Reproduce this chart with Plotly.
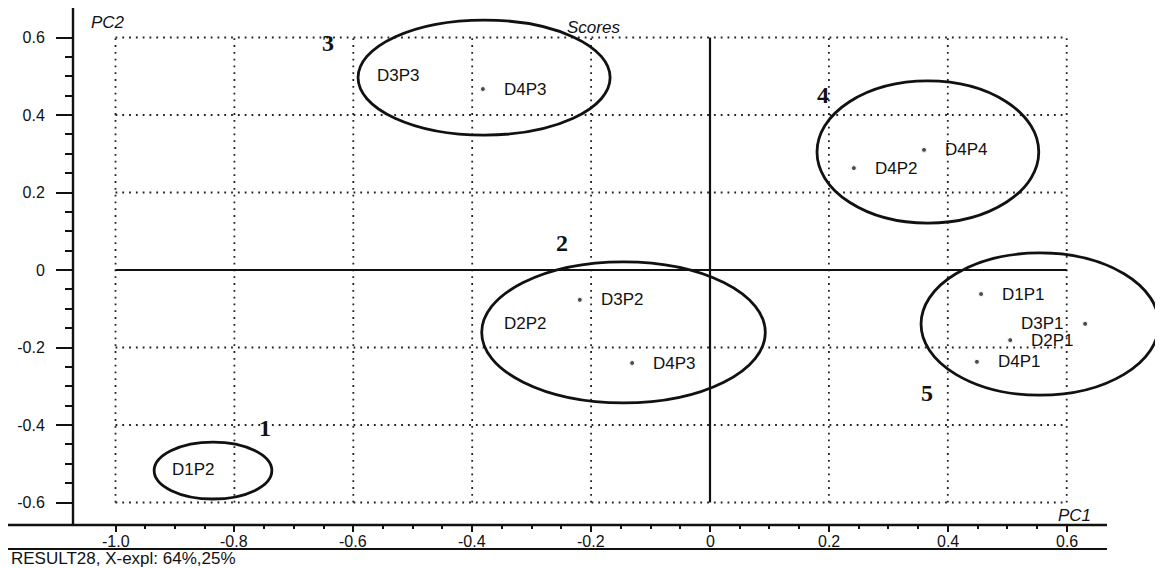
import plotly.graph_objects as go

# ---------------- data ----------------
sample_names = ["D1P1", "D2P1", "D3P1", "D4P1", "D4P2", "D4P4",
                "D3P3", "D4P3", "D2P2", "D3P2", "D4P3", "D1P2"]
pc1_scores = [0.456, 0.505, 0.631, 0.449, 0.242, 0.360,
              -0.595, -0.382, -0.382, -0.219, -0.131, -0.940]
pc2_scores = [-0.062, -0.181, -0.139, -0.237, 0.263, 0.310,
              0.503, 0.467, -0.137, -0.077, -0.240, -0.516]
dot_visible = [True, True, True, True, True, True,
               False, True, False, True, True, False]
label_side = ["right", "right", "left", "right", "right", "right",
              "right", "right", "right", "right", "right", "right"]

cluster_ids = ["1", "2", "3", "4", "5"]
cluster_x0 = [-0.935, -0.384, -0.592, 0.180, 0.355]
cluster_x1 = [-0.737, 0.093, -0.168, 0.553, 0.755]
cluster_y0 = [-0.591, -0.343, 0.348, 0.121, -0.323]
cluster_y1 = [-0.444, 0.021, 0.645, 0.488, 0.044]
cluster_label_x = [-0.749, -0.249, -0.643, 0.190, 0.365]
cluster_label_y = [-0.408, 0.070, 0.586, 0.452, -0.317]

x_ticks = [-1.0, -0.8, -0.6, -0.4, -0.2, 0.0, 0.2, 0.4, 0.6]
x_ticktext = ["-1.0", "-0.8", "-0.6", "-0.4", "-0.2", "0", "0.2", "0.4", "0.6"]
y_ticks = [0.6, 0.4, 0.2, 0.0, -0.2, -0.4, -0.6]
y_ticktext = ["0.6", "0.4", "0.2", "0", "-0.2", "-0.4", "-0.6"]

footer_text = "RESULT28, X-expl: 64%,25%"

# ---------------- figure geometry ----------------
FONT = "Arial, Liberation Sans, sans-serif"
OFF = 8                      # page body margin in the browser
W, H = 1163 - OFF, 568 - OFF
ML, MB = 73 - OFF, 43
PW, PH = W - ML, H - MB
XS, YS = 594.5, 387.5        # pixels per unit
X0_PX, Y0_PX = 710 - OFF, 270 - OFF   # figure pixel of the origin

x_range = [(ML - X0_PX) / XS, (W - X0_PX) / XS]
y_range = [(Y0_PX - PH) / YS, Y0_PX / YS]


def px2paper_x(sx):
    return (sx - OFF - ML) / PW


def px2paper_y(sy):
    return (PH - (sy - OFF)) / PH


fig = go.Figure()

fig.add_trace(go.Scatter(
    x=pc1_scores, y=pc2_scores, mode="markers",
    marker=dict(color="black", size=[5 if v else 0 for v in dot_visible]),
    hoverinfo="text", text=sample_names, showlegend=False))

annotations = []
for n, x, y, side in zip(sample_names, pc1_scores, pc2_scores, label_side):
    annotations.append(dict(
        x=x, y=y, xref="x", yref="y", text=n, showarrow=False,
        xanchor="left" if side == "right" else "right",
        xshift=19 if side == "right" else -19, yanchor="middle",
        font=dict(family=FONT, size=17, color="#111")))

for cid, cx, cy in zip(cluster_ids, cluster_label_x, cluster_label_y):
    annotations.append(dict(
        x=cx, y=cy, xref="x", yref="y", text="<b>%s</b>" % cid, showarrow=False,
        xanchor="center", yanchor="middle",
        font=dict(family="Liberation Serif, Times New Roman, serif", size=24, color="#111")))

# x tick labels placed just under the axis line
for xv, xt in zip(x_ticks, x_ticktext):
    annotations.append(dict(
        x=xv, y=px2paper_y(541), xref="x", yref="paper", text=xt, showarrow=False,
        xanchor="center", yanchor="middle",
        font=dict(family=FONT, size=16, color="#111")))

annotations += [
    dict(x=px2paper_x(593), y=px2paper_y(27), xref="paper", yref="paper",
         xanchor="center", yanchor="middle",
         text="<i>Scores</i>", showarrow=False,
         font=dict(family=FONT, size=17, color="#111")),
    dict(x=px2paper_x(89), y=px2paper_y(23), xref="paper", yref="paper",
         xanchor="left", yanchor="middle", text="<i>PC2</i>", showarrow=False,
         font=dict(family=FONT, size=17, color="#111")),
    dict(x=px2paper_x(1074), y=px2paper_y(515), xref="paper", yref="paper",
         xanchor="center", yanchor="middle", text="<i>PC1</i>", showarrow=False,
         font=dict(family=FONT, size=17, color="#111")),
    dict(x=px2paper_x(9), y=px2paper_y(558), xref="paper", yref="paper",
         xanchor="left", yanchor="middle", text=footer_text, showarrow=False,
         font=dict(family=FONT, size=17, color="#111")),
]

shapes = []
dot_line = dict(color="#222", width=1.8, dash="1.8px,5px")
gx0, gx1 = x_ticks[0], x_ticks[-1]
gy0, gy1 = min(y_ticks), max(y_ticks)
for xv in x_ticks:
    if xv == 0:
        continue
    shapes.append(dict(type="line", xref="x", yref="y", x0=xv, x1=xv,
                       y0=gy0, y1=gy1, line=dot_line, layer="below"))
for yv in y_ticks:
    if yv == 0:
        continue
    shapes.append(dict(type="line", xref="x", yref="y", x0=gx0, x1=gx1,
                       y0=yv, y1=yv, line=dot_line, layer="below"))
# zero lines
shapes.append(dict(type="line", xref="x", yref="y", x0=gx0, x1=gx1, y0=0, y1=0,
                   line=dict(color="#111", width=2.2)))
shapes.append(dict(type="line", xref="x", yref="y", x0=0, x1=0, y0=gy0, y1=gy1,
                   line=dict(color="#111", width=2.2)))
# cluster ellipses
for x0, x1, y0, y1 in zip(cluster_x0, cluster_x1, cluster_y0, cluster_y1):
    shapes.append(dict(type="circle", xref="x", yref="y", x0=x0, x1=x1,
                       y0=y0, y1=y1, line=dict(color="#111", width=2.8)))
# axis frame lines
shapes.append(dict(type="line", xref="paper", yref="paper",
                   x0=px2paper_x(73), x1=px2paper_x(73),
                   y0=px2paper_y(8), y1=px2paper_y(525),
                   line=dict(color="#111", width=2.4)))
shapes.append(dict(type="line", xref="paper", yref="paper",
                   x0=px2paper_x(OFF), x1=px2paper_x(1107),
                   y0=px2paper_y(525), y1=px2paper_y(525),
                   line=dict(color="#111", width=2.4)))
shapes.append(dict(type="line", xref="paper", yref="paper",
                   x0=px2paper_x(OFF), x1=px2paper_x(1107),
                   y0=px2paper_y(549), y1=px2paper_y(549),
                   line=dict(color="#111", width=2.2)))

x_minor = [round(-1.0 + 0.05 * i, 2) for i in range(33)]
y_minor = [round(-0.6 + 0.05 * i, 2) for i in range(25)]

fig.update_layout(
    width=W, height=H, autosize=False,
    margin=dict(l=ML, r=0, t=0, b=MB, pad=0),
    paper_bgcolor="white", plot_bgcolor="white",
    shapes=shapes, annotations=annotations,
    xaxis=dict(range=x_range, showgrid=False, zeroline=False, showline=False,
               tickmode="array", tickvals=x_ticks, ticktext=x_ticktext,
               showticklabels=False,
               ticks="outside", ticklen=6, tickwidth=2, tickcolor="#111",
               minor=dict(tickmode="array", tickvals=x_minor, ticks="outside",
                          ticklen=3, tickwidth=1.5, tickcolor="#111", showgrid=False),
               fixedrange=True),
    yaxis=dict(range=y_range, showgrid=False, zeroline=False, showline=False,
               tickmode="array", tickvals=y_ticks, ticktext=y_ticktext,
               ticks="outside", ticklen=16, tickwidth=2, tickcolor="#111",
               ticklabelstandoff=8,
               tickfont=dict(family=FONT, size=16, color="#111"),
               minor=dict(tickmode="array", tickvals=y_minor, ticks="outside",
                          ticklen=7, tickwidth=2, tickcolor="#111", showgrid=False),
               fixedrange=True),
)

fig.write_html("out.html")
